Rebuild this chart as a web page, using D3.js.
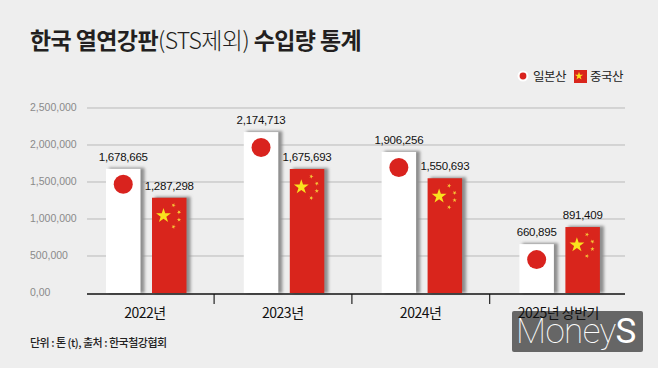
<!DOCTYPE html>
<html><head><meta charset="utf-8">
<script src="https://cdnjs.cloudflare.com/ajax/libs/d3/7.8.5/d3.min.js"></script>
<style>html,body{margin:0;padding:0;background:#eeeeee}svg{display:block}text{font-family:"Noto Sans CJK KR","Noto Sans",sans-serif}</style>
</head><body><svg id="c" width="658" height="368"></svg>
<script>
const categories=["2022년","2023년","2024년","2025년 상반기"];
const japan=[1678665,2174713,1906256,660895];
const china=[1287298,1675693,1550693,891409];
const yTicks=[0,500000,1000000,1500000,2000000,2500000];
const yLabels=["0,00","500,000","1,000,000","1,500,000","2,000,000","2,500,000"];
const legendLabels=["일본산","중국산"];
const fmt=d3.format(",");
const numFont='"Liberation Sans",Arial,sans-serif';
const svg=d3.select("#c");
const defs=svg.append("defs");
defs.append("filter").attr("id","sh").attr("x","-30%").attr("y","-10%").attr("width","160%").attr("height","120%")
  .append("feGaussianBlur").attr("stdDeviation",1.6);
svg.append("rect").attr("width",658).attr("height",368).attr("fill","#eeeeee");
const y=d3.scaleLinear().domain([0,2500000]).range([293,108]);
const x=d3.scaleBand().domain(categories).range([76.3,627.5]);
const barW=34.5;
const jx=i=>x(categories[i])+29.7, cx=i=>x(categories[i])+75.7;

// title
const t=svg.append("text").attr("x",30).attr("y",49).attr("font-size",23).attr("font-weight",700).attr("fill","#231f20").attr("letter-spacing",-.6);
t.append("tspan").text("한국 열연강판");
t.append("tspan").attr("font-weight",300).text("(STS제외)");
t.append("tspan").text(" 수입량 통계");

// grid
svg.selectAll(".g").data(yTicks.slice(1)).join("line").attr("x1",87).attr("x2",625)
  .attr("y1",d=>y(d)).attr("y2",d=>y(d)).attr("stroke","#b9b9b9").attr("stroke-width",1);
svg.selectAll(".yl").data(yTicks).join("text").attr("x",30).attr("y",d=>y(d)-.5).attr("dy","0.35em")
  .attr("font-size",10.5).attr("fill","#8a8a8a").style("font-family",numFont).text((d,i)=>yLabels[i]);

function star(sel,cxv,cyv,r,fill,rot){
  sel.append("path").attr("d",d3.symbol(d3.symbolStar,Math.PI*r*r*0.42)())
    .attr("transform",`translate(${cxv},${cyv}) rotate(${rot||0})`).attr("fill",fill);
}
// watermark (sits beneath the last axis label)
const w=svg.append("g");
w.append("rect").attr("x",512).attr("y",311).attr("width",131).attr("height",41).attr("rx",2).attr("fill","#666666");
const wt=w.append("text").attr("x",516).attr("y",343).attr("font-size",35).attr("fill","#fff").attr("letter-spacing",-.6).style("font-family","Roboto, sans-serif");
wt.append("tspan").attr("font-weight",100).text("Money");
wt.append("tspan").attr("font-weight",400).text("S");

// bars
categories.forEach((c,i)=>{
  const jt=y(japan[i]), ct=y(china[i]);
  svg.append("rect").attr("x",jx(i)+3).attr("y",jt-1).attr("width",barW+1).attr("height",y(0)-jt+1).attr("fill","#8e8e8e").attr("filter","url(#sh)");
  svg.append("rect").attr("x",cx(i)+3).attr("y",ct-1).attr("width",barW+1).attr("height",y(0)-ct+1).attr("fill","#8e8e8e").attr("filter","url(#sh)");
});
const g=svg.append("g");
categories.forEach((c,i)=>{
  const jt=y(japan[i]), ct=y(china[i]);
  g.append("rect").attr("x",jx(i)).attr("y",jt).attr("width",barW).attr("height",y(0)-jt).attr("fill","#ffffff");
  g.append("circle").attr("cx",jx(i)+barW/2).attr("cy",jt+15.5).attr("r",9.5).attr("fill","#d9231e");
  g.append("rect").attr("x",cx(i)).attr("y",ct).attr("width",barW).attr("height",y(0)-ct).attr("fill","#d9251c");
  star(g,cx(i)+11.5,ct+18,7.2,"#f9e21e");
  [[21.5,7.5,20],[27,14.5,40],[27,22,70],[21.5,29,20]].forEach(p=>star(g,cx(i)+p[0],ct+p[1],2.1,"#f6c838",p[2]));
  svg.append("text").attr("x",jx(i)+barW/2).attr("y",jt-8).attr("text-anchor","middle").attr("font-size",11.5).attr("fill","#111").attr("letter-spacing",-.25).style("font-family",numFont).text(fmt(japan[i]));
  svg.append("text").attr("x",cx(i)+barW/2).attr("y",ct-8).attr("text-anchor","middle").attr("font-size",11.5).attr("fill","#111").attr("letter-spacing",-.25).style("font-family",numFont).text(fmt(china[i]));
});

// axis
const ax=svg.append("g");
ax.append("line").attr("x1",87).attr("x2",625).attr("y1",294).attr("y2",294).attr("stroke","#111").attr("stroke-width",1.3);
categories.slice(1).forEach(c=>{
  ax.append("line").attr("x1",x(c)).attr("x2",x(c)).attr("y1",294).attr("y2",304).attr("stroke","#111").attr("stroke-width",1.1);
});
categories.forEach(c=>{
  ax.append("text").attr("x",x(c)+68.7).attr("y",318).attr("text-anchor","middle").attr("font-size",14).attr("fill","#111").attr("letter-spacing",-.5).text(c);
});

// footnote
svg.append("text").attr("x",30).attr("y",347).attr("font-size",11).attr("font-weight",500).attr("fill","#222").attr("letter-spacing",-.5).text("단위 : 톤 (t), 출처 : 한국철강협회");

// legend
svg.append("circle").attr("cx",523).attr("cy",76).attr("r",5.5).attr("fill","#fff");
svg.append("circle").attr("cx",523).attr("cy",76).attr("r",3.4).attr("fill","#d9231e");
svg.append("text").attr("x",533).attr("y",81).attr("font-size",12.5).attr("fill","#222").attr("letter-spacing",-.5).text(legendLabels[0]);
svg.append("rect").attr("x",574).attr("y",70).attr("width",13).attr("height",13).attr("fill","#d9251c");
star(svg,579,76,4,"#f9e21e");
svg.append("text").attr("x",590).attr("y",81).attr("font-size",12.5).attr("fill","#222").attr("letter-spacing",-.5).text(legendLabels[1]);
</script></body></html>
